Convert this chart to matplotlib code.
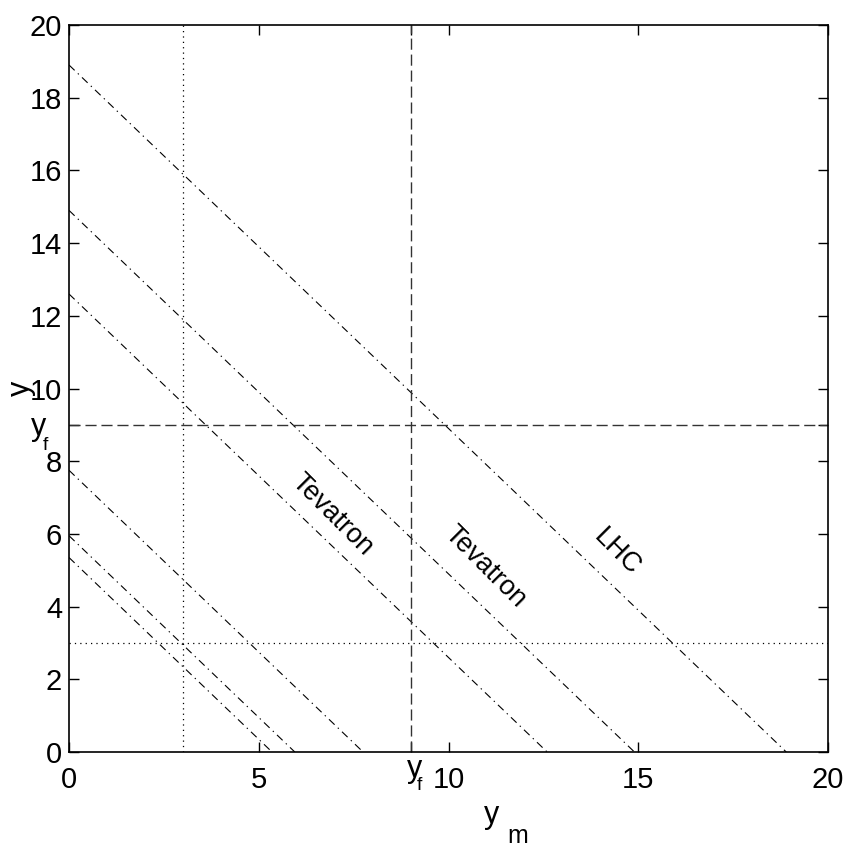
import matplotlib
matplotlib.use("Agg")
import matplotlib.pyplot as plt
import numpy as np

plt.rcParams['font.family'] = ['Liberation Sans Narrow', 'Liberation Sans', 'DejaVu Sans']

# data
intercepts = [18.9, 14.9, 12.6, 7.75, 5.95, 5.35]
y_f = 9
y_low = 3
labels = ["Tevatron", "Tevatron", "LHC"]
label_x = [6.93, 10.96, 14.44]
label_y = [6.52, 5.09, 5.50]
xticks = [0, 5, 10, 15, 20]
yticks = [0, 2, 4, 6, 8, 10, 12, 14, 16, 18, 20]

W = H = 850
fig = plt.figure(figsize=(8.5, 8.5), dpi=100)
ax = fig.add_axes([69 / W, 1 - 752 / H, 759 / W, 727 / H])

for c in intercepts:
    xs = np.array([0, c])
    ax.plot(xs, c - xs, color='black', lw=0.8, linestyle=(0, (7, 4, 1.2, 4)))

ax.axvline(y_f, color='#333333', lw=1.0, linestyle=(0, (8, 3.5)))
ax.axhline(y_f, color='#333333', lw=1.0, linestyle=(0, (8, 3.5)))
ax.axvline(y_low, color='black', lw=0.9, linestyle=(0, (1, 3.3)))
ax.axhline(y_low, color='black', lw=0.9, linestyle=(0, (1, 3.3)))

for t, x, y in zip(labels, label_x, label_y):
    ax.text(x, y, t, rotation=-45, ha='center', va='center', fontsize=19.5,
            rotation_mode='anchor')

ax.set_xlim(0, 20)
ax.set_ylim(0, 20)
ax.set_xticks(xticks + [y_f])
ax.set_xticklabels([str(v) for v in xticks] + [""])
ax.set_yticks(yticks + [y_f])
ax.set_yticklabels([str(v) for v in yticks] + [""])
ax.tick_params(direction='in', length=7, width=1, labelsize=21,
               top=True, right=True)
ax.tick_params(axis='x', pad=10)
ax.tick_params(axis='y', pad=5)
for s in ax.spines.values():
    s.set_linewidth(1.2)

def ptext(px, py, s, size):
    fig.text(px / W, 1 - py / H, s, fontsize=size, ha='left', va='baseline')

# y_f tick labels
ptext(407, 777, "y", 22)
ptext(417, 790, "f", 14)
ptext(31, 435, "y", 22)
ptext(43, 450, "f", 14)
# axis labels
ptext(484, 823, "y", 22)
ptext(507, 843, "m", 18)
fig.text(21 / W, 1 - 388 / H, "y", fontsize=22, rotation=90, ha='center', va='center')

fig.savefig("out.png", dpi=100)
